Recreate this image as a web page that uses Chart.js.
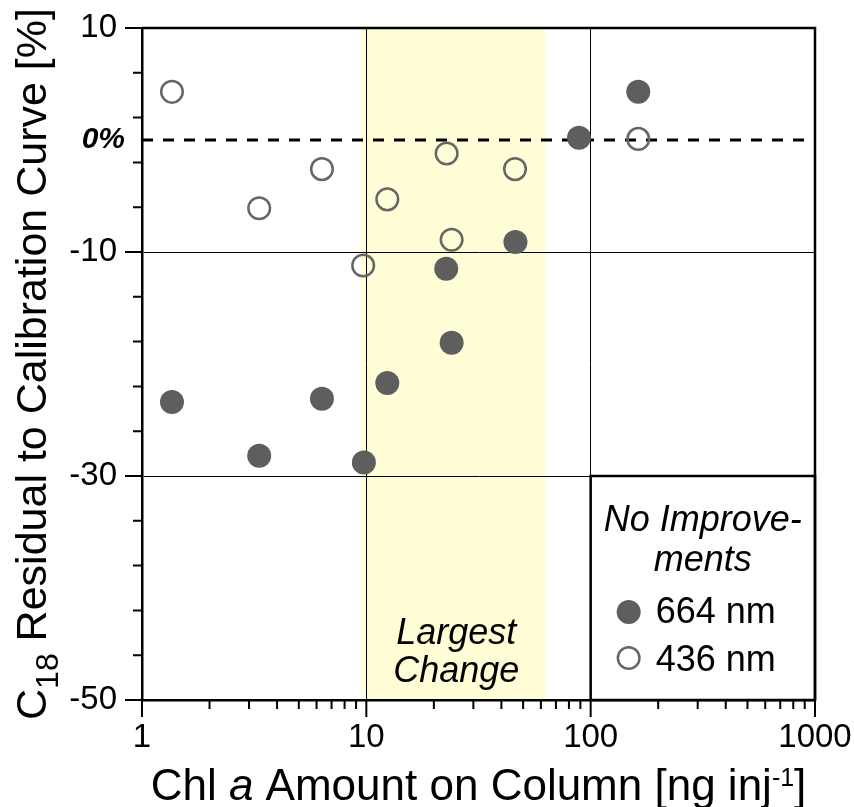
<!DOCTYPE html>
<html><head><meta charset="utf-8">
<script src="https://cdn.jsdelivr.net/npm/chart.js@4.4.1/dist/chart.umd.min.js"></script>
<style>html,body{margin:0;padding:0;background:#fff}#wrap{width:854px;height:807px;position:relative}</style>
</head><body><div id="wrap"><canvas id="c" width="854" height="807"></canvas></div>
<script>
// ---- data ----
const x664 = [1.36, 3.33, 6.34, 9.75, 12.4, 22.7, 24.0, 46.2, 88.7, 163];
const y664 = [-23.4, -28.2, -23.1, -28.8, -21.7, -11.5, -18.1, -9.1, 0.2, 4.3];
const x436 = [1.36, 3.33, 6.34, 9.68, 12.4, 22.8, 24.0, 46.0, 163];
const y436 = [4.3, -6.1, -2.6, -11.2, -5.3, -1.2, -8.9, -2.6, 0.1];
const xTickLabels = [1, 10, 100, 1000];
const yTickLabels = [-50, -30, -10, 10];
const xGridLines = [10, 100];
const yGridLines = [-30, -10];
const yMinorStep = 4;
const bandRange = [9.45, 63];
const zeroValue = 0;
const legendCell = {x0: 100, x1: 1000, y0: -30, y1: -50};
const seriesNames = ['664 nm', '436 nm'];

const F = "'Liberation Sans', Arial, Helvetica, sans-serif";
const FILL = '#5e5e5e';
const OPEN = '#666666';

function drawSegments(ctx, segs, startX, baseY) {
  let xx = startX;
  for (const s of segs) {
    ctx.font = s.font;
    ctx.fillText(s.t, xx, baseY + (s.dy || 0));
    xx += ctx.measureText(s.t).width;
  }
}
function segWidth(ctx, segs) {
  let w = 0;
  for (const s of segs) { ctx.font = s.font; w += ctx.measureText(s.t).width; }
  return w;
}

const deco = {
  id: 'deco',
  beforeDraw(chart) {
    const {ctx, chartArea: a, scales: {x}} = chart;
    ctx.save();
    ctx.fillStyle = '#fffdd5';
    const b0 = x.getPixelForValue(bandRange[0]), b1 = x.getPixelForValue(bandRange[1]);
    ctx.fillRect(b0, a.top, b1 - b0, a.bottom - a.top);
    ctx.restore();
  },
  beforeDatasetsDraw(chart) {
    const {ctx, chartArea: a, scales: {x, y}} = chart;
    ctx.save();
    const yz = y.getPixelForValue(zeroValue);
    ctx.strokeStyle = '#000';
    ctx.lineWidth = 3;
    ctx.setLineDash([11, 10]);
    ctx.beginPath(); ctx.moveTo(a.left, yz); ctx.lineTo(a.right, yz); ctx.stroke();
    ctx.setLineDash([]);
    ctx.lineWidth = 2.5;
    ctx.beginPath();
    ctx.moveTo(a.left, a.top); ctx.lineTo(a.right, a.top); ctx.lineTo(a.right, a.bottom);
    ctx.stroke();
    ctx.lineWidth = 2;
    ctx.beginPath();
    for (let v = y.min; v <= y.max + 1e-9; v += yMinorStep) {
      const p = y.getPixelForValue(v);
      const len = yTickLabels.includes(v) ? 17 : 9;
      ctx.moveTo(a.left - len, p); ctx.lineTo(a.left, p);
    }
    for (let d = 1; d < 1000; d *= 10) {
      for (let k = 1; k <= 9; k++) {
        const p = x.getPixelForValue(d * k);
        const len = k === 1 ? 17 : 9;
        ctx.moveTo(p, a.bottom); ctx.lineTo(p, a.bottom + len);
      }
    }
    const p1000 = x.getPixelForValue(1000);
    ctx.moveTo(p1000, a.bottom); ctx.lineTo(p1000, a.bottom + 17);
    ctx.stroke();
    ctx.restore();
  },
  afterDraw(chart) {
    const {ctx, chartArea: a, scales: {x, y}} = chart;
    ctx.save();
    ctx.fillStyle = '#000';
    ctx.font = "italic bold 30px " + F;
    ctx.textAlign = 'right'; ctx.textBaseline = 'middle';
    ctx.fillText('0%', a.left - 17, y.getPixelForValue(zeroValue));

    const bc = (x.getPixelForValue(bandRange[0]) + x.getPixelForValue(bandRange[1])) / 2 + 3;
    ctx.font = "italic 36px " + F;
    ctx.textAlign = 'center'; ctx.textBaseline = 'alphabetic';
    ctx.fillText('Largest', bc, a.bottom - 56);
    ctx.fillText('Change', bc, a.bottom - 18);

    const lx0 = x.getPixelForValue(legendCell.x0), lx1 = x.getPixelForValue(legendCell.x1);
    const ly0 = y.getPixelForValue(legendCell.y0), ly1 = y.getPixelForValue(legendCell.y1);
    ctx.lineWidth = 2.5; ctx.strokeStyle = '#000';
    ctx.strokeRect(lx0, ly0, lx1 - lx0, ly1 - ly0);
    const lc = (lx0 + lx1) / 2;
    ctx.font = "italic 36px " + F;
    ctx.fillText('No Improve-', lc, ly0 + 55);
    ctx.fillText('ments', lc, ly0 + 95);
    ctx.textAlign = 'left';
    ctx.font = "36px " + F;
    ctx.fillText(seriesNames[0], lx0 + 65, ly0 + 147);
    ctx.fillText(seriesNames[1], lx0 + 65, ly0 + 195);
    ctx.fillStyle = FILL;
    ctx.beginPath(); ctx.arc(lx0 + 38, ly0 + 136, 12, 0, Math.PI * 2); ctx.fill();
    ctx.strokeStyle = OPEN; ctx.lineWidth = 2.5;
    ctx.beginPath(); ctx.arc(lx0 + 38, ly0 + 182, 10.8, 0, Math.PI * 2); ctx.stroke();

    ctx.fillStyle = '#000';
    ctx.textAlign = 'left'; ctx.textBaseline = 'alphabetic';
    const bigX = "44px " + F;
    const xSegs = [
      {t: 'Chl ', font: bigX},
      {t: 'a', font: "italic " + bigX},
      {t: ' Amount on Column [ng inj', font: bigX},
      {t: '-1', font: "25px " + F, dy: -14},
      {t: ']', font: bigX}
    ];
    const xc = (a.left + a.right) / 2;
    drawSegments(ctx, xSegs, xc - segWidth(ctx, xSegs) / 2, 800);

    const big = "43px " + F;
    const ySegs = [
      {t: 'C', font: big},
      {t: '18', font: "32px " + F, dy: 12},
      {t: ' Residual to Calibration Curve [%]', font: big}
    ];
    ctx.translate(46, (a.top + a.bottom) / 2);
    ctx.rotate(-Math.PI / 2);
    drawSegments(ctx, ySegs, -segWidth(ctx, ySegs) / 2, 0);
    ctx.restore();
  }
};

const tickFont = {family: F, size: 33, lineHeight: 1.2};

new Chart(document.getElementById('c'), {
  type: 'scatter',
  data: {
    datasets: [
      {
        label: seriesNames[0],
        data: x664.map((v, i) => ({x: v, y: y664[i]})),
        pointRadius: 12, pointHoverRadius: 12,
        backgroundColor: FILL, borderWidth: 0, borderColor: FILL
      },
      {
        label: seriesNames[1],
        data: x436.map((v, i) => ({x: v, y: y436[i]})),
        pointRadius: 10.8, pointHoverRadius: 10.8,
        backgroundColor: 'rgba(255,255,255,0)', borderColor: OPEN, borderWidth: 2.5
      }
    ]
  },
  options: {
    responsive: false,
    animation: false,
    devicePixelRatio: 1,
    layout: {padding: {left: 0, top: 28, right: 39, bottom: 0}},
    plugins: {legend: {display: false}, tooltip: {enabled: false}},
    scales: {
      x: {
        type: 'logarithmic', min: 1, max: 1000,
        afterFit(s) { s.height = 107; s.paddingLeft = 0; s.paddingRight = 0; },
        afterBuildTicks(s) { s.ticks = xTickLabels.map(v => ({value: v})); },
        ticks: {
          autoSkip: false, maxRotation: 0, minRotation: 0, padding: 18,
          color: '#000', font: tickFont,
          callback: (v) => String(v)
        },
        grid: {
          drawTicks: false, lineWidth: 1,
          color: (c) => (c.tick && xGridLines.includes(c.tick.value)) ? '#000' : 'rgba(0,0,0,0)'
        },
        border: {display: true, color: '#000', width: 2.5}
      },
      y: {
        type: 'linear', min: -50, max: 10,
        afterFit(s) { s.width = 142; s.paddingTop = 0; s.paddingBottom = 0; },
        afterBuildTicks(s) { s.ticks = yTickLabels.map(v => ({value: v})); },
        ticks: {
          autoSkip: false, padding: 25, color: '#000', font: tickFont,
          callback: (v) => String(v)
        },
        grid: {
          drawTicks: false, lineWidth: 1,
          color: (c) => (c.tick && yGridLines.includes(c.tick.value)) ? '#000' : 'rgba(0,0,0,0)'
        },
        border: {display: true, color: '#000', width: 2.5}
      }
    }
  },
  plugins: [deco]
});
</script>
</body></html>
